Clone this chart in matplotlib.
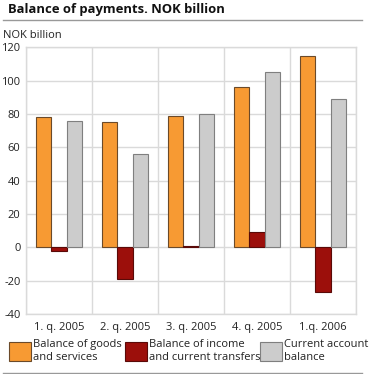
import matplotlib
matplotlib.use("Agg")
import matplotlib.pyplot as plt
import numpy as np
from matplotlib.patches import Patch

plt.rcParams['font.family'] = ['Open Sans', 'DejaVu Sans']
plt.rcParams['axes.unicode_minus'] = False

categories = ["1. q. 2005", "2. q. 2005", "3. q. 2005", "4. q. 2005", "1.q. 2006"]
goods_services = [78, 75, 79, 96, 115]
income_transfers = [-2, -19, 1, 9, -27]
current_account = [76, 56, 80, 105, 89]
series_names = ["Balance of goods\nand services",
                "Balance of income\nand current transfers",
                "Current account\nbalance"]
yticks = [-40, -20, 0, 20, 40, 60, 80, 100, 120]

colors = ["#F79A33", "#9C0F0B", "#CCCCCC"]
edges = ["#6b4a2a", "#5a0a08", "#7f7f7f"]

fig = plt.figure(figsize=(3.72, 3.74), dpi=100)
ax = fig.add_axes([26/372, 1-314/374, 330/372, (314-47.3)/374])

x = np.arange(len(categories))
w = 0.235
for i, vals in enumerate([goods_services, income_transfers, current_account]):
    ax.bar(x + (i-1)*w, vals, width=w, color=colors[i], edgecolor=edges[i], linewidth=0.8, zorder=3)

ax.set_xlim(-0.5, len(categories)-0.5)
ax.set_ylim(-40, 120)
ax.set_yticks(yticks)
ax.set_xticks(x)
ax.set_xticklabels(categories)
ax.set_xticks(np.arange(len(categories)+1)-0.5, minor=True)
ax.grid(True, axis='y', color='#dadada', linewidth=1, zorder=0)
ax.grid(True, axis='x', which='minor', color='#dadada', linewidth=1, zorder=0)
ax.tick_params(axis='both', which='both', length=0, labelsize=8, colors='#222222', pad=4)
ax.tick_params(axis='x', pad=6)
for s in ax.spines.values():
    s.set_color('#dadada')
    s.set_linewidth(1)

fig.text(8/372, 1-9/374, "Balance of payments. NOK billion", fontsize=9.4, fontweight='bold',
         va='center', ha='left', color='#111111')
fig.add_artist(plt.Line2D([3/372, 362/372], [1-19.5/374, 1-19.5/374], color='#999999', linewidth=1))
fig.text(3/372, 1-35/374, "NOK billion", fontsize=8, va='center', ha='left', color='#222222')
fig.add_artist(plt.Line2D([3/372, 362/372], [1-372.5/374, 1-372.5/374], color='#999999', linewidth=1))

leg_x = [9, 125, 260]
for i in range(3):
    h = Patch(facecolor=colors[i], edgecolor=edges[i], linewidth=0.8)
    leg = fig.legend([h], [series_names[i]], loc='upper left',
                     bbox_to_anchor=(leg_x[i]/372, 1-339/374),
                     frameon=False, fontsize=8, handlelength=2.0, handleheight=2.25,
                     handletextpad=0.12, borderpad=0, borderaxespad=0, labelspacing=0)
    for t in leg.get_texts():
        t.set_color('#222222')
        t.set_linespacing(1.25)

fig.savefig("out.png", dpi=100)
